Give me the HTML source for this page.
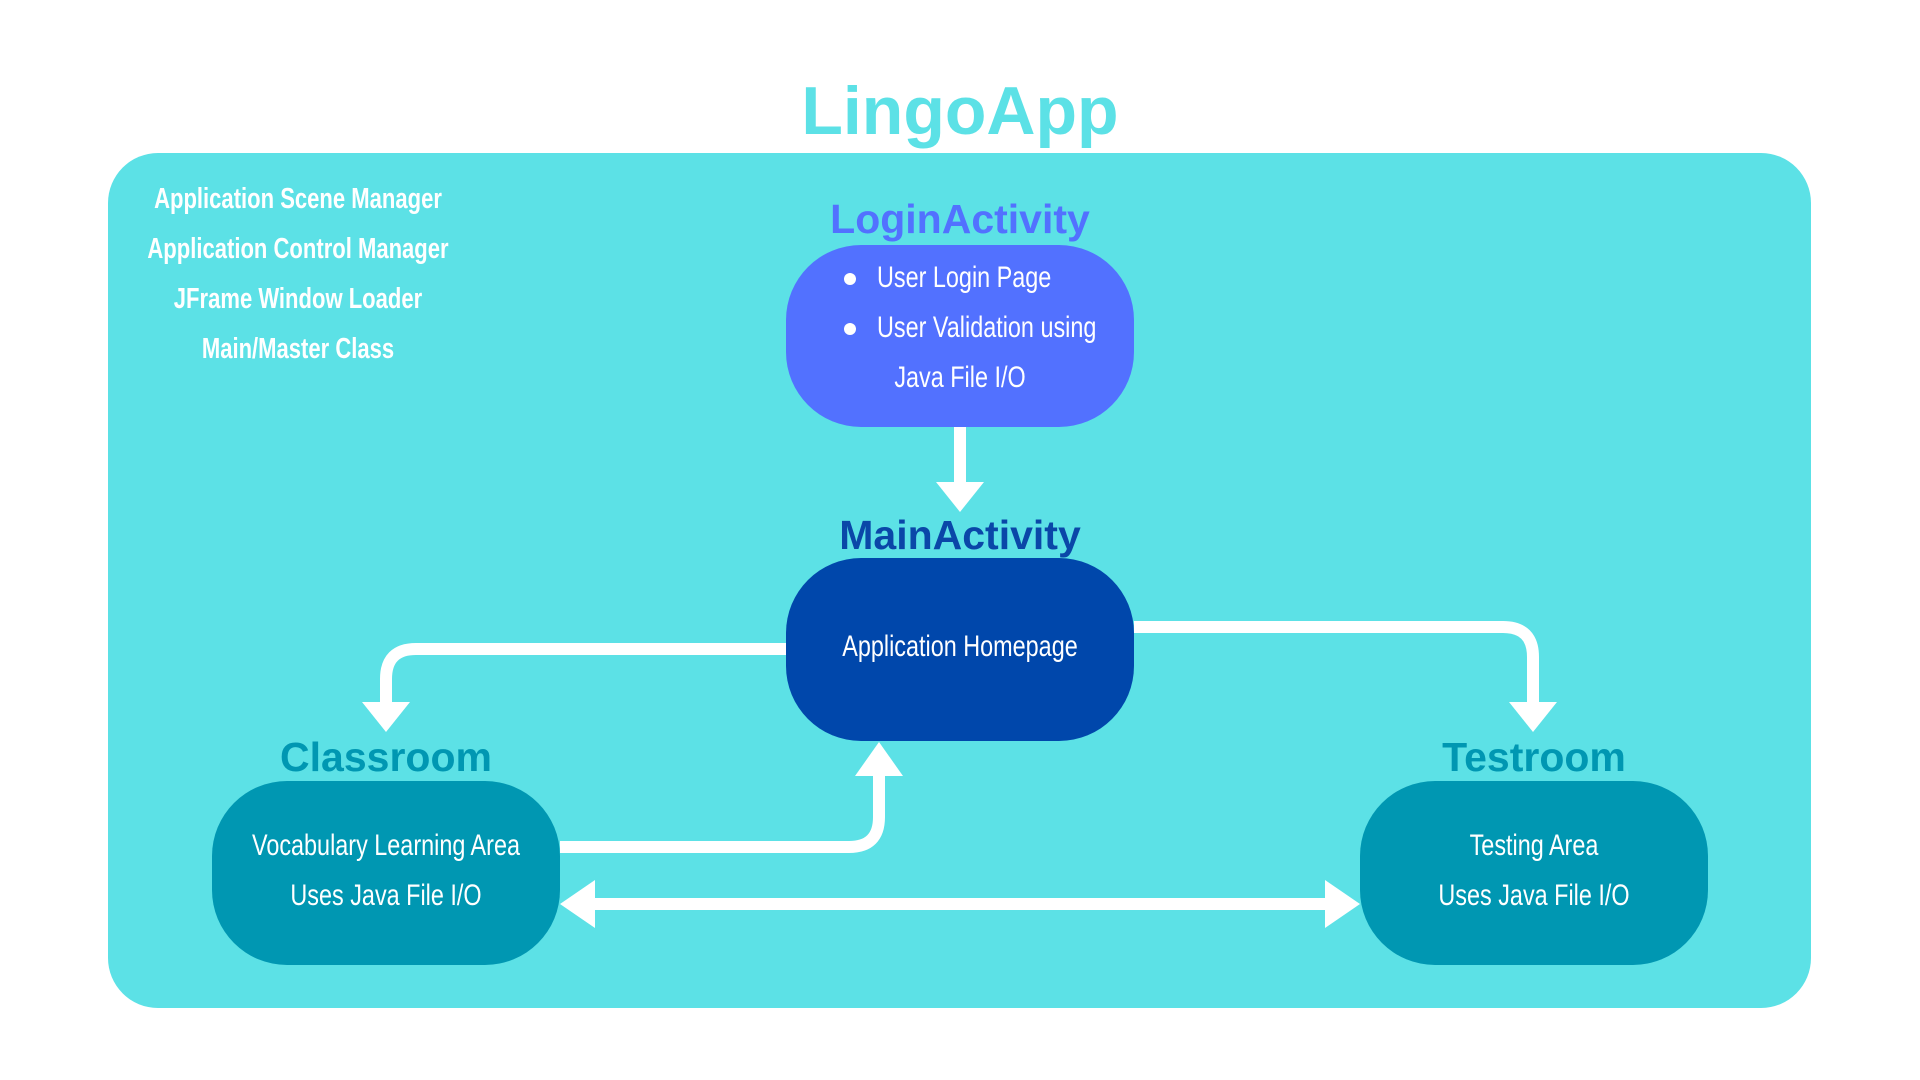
<!DOCTYPE html>
<html><head><meta charset="utf-8"><style>
html,body{margin:0;padding:0;background:#fff;}
body{width:1920px;height:1080px;position:relative;overflow:hidden;font-family:"Liberation Sans",sans-serif;}
.abs{position:absolute;}
.title{left:0;width:1920px;top:72px;text-align:center;font-size:68px;font-weight:bold;color:#5ce1e6;}
.panel{left:108px;top:153px;width:1703px;height:855px;background:#5ce1e6;border-radius:50px;}
.lbl{font-weight:bold;font-size:41px;text-align:center;width:400px;}
.box{border-radius:75px;}
.t{position:absolute;white-space:nowrap;text-align:center;color:#fff;font-size:30px;line-height:50px;transform:scaleX(0.78);}
.s{position:absolute;left:98px;width:400px;white-space:nowrap;text-align:center;color:#fff;font-weight:bold;font-size:29px;line-height:50px;transform:scaleX(0.76);}
</style></head><body>
<div class="abs title">LingoApp</div>
<div class="abs panel"></div>
<div class="s" style="top:174px">Application Scene Manager</div>
<div class="s" style="top:224px">Application Control Manager</div>
<div class="s" style="top:274px">JFrame Window Loader</div>
<div class="s" style="top:324px">Main/Master Class</div>

<div class="abs lbl" style="left:760px;top:196px;color:#5271ff;">LoginActivity</div>
<div class="abs box" style="left:786px;top:245px;width:348px;height:182px;background:#5271ff;"></div>
<div class="abs" style="left:844px;top:273px;width:12px;height:12px;border-radius:50%;background:#fff"></div>
<div class="abs" style="left:844px;top:323px;width:12px;height:12px;border-radius:50%;background:#fff"></div>
<div class="t" style="left:877px;top:253px;transform-origin:left center;">User Login Page</div>
<div class="t" style="left:877px;top:303px;transform-origin:left center;">User Validation using</div>
<div class="t" style="left:760px;width:400px;top:353px;">Java File I/O</div>

<div class="abs lbl" style="left:760px;top:512px;color:#0a47a8;">MainActivity</div>
<div class="abs box" style="left:786px;top:558px;width:348px;height:183px;background:#0047ab;"></div>
<div class="t" style="left:760px;width:400px;top:622px;">Application Homepage</div>

<div class="abs lbl" style="left:186px;top:734px;color:#0097b2;">Classroom</div>
<div class="abs box" style="left:212px;top:781px;width:348px;height:184px;background:#0097b2;"></div>
<div class="t" style="left:186px;width:400px;top:821px;">Vocabulary Learning Area</div>
<div class="t" style="left:186px;width:400px;top:871px;">Uses Java File I/O</div>

<div class="abs lbl" style="left:1334px;top:734px;color:#0097b2;">Testroom</div>
<div class="abs box" style="left:1360px;top:781px;width:348px;height:184px;background:#0097b2;"></div>
<div class="t" style="left:1334px;width:400px;top:821px;">Testing Area</div>
<div class="t" style="left:1334px;width:400px;top:871px;">Uses Java File I/O</div>

<svg class="abs" style="left:0;top:0" width="1920" height="1080">
<g fill="none" stroke="#fff" stroke-width="12">
<path d="M960 427 V485"/>
<path d="M786 649 H416 Q386 649 386 679 V705"/>
<path d="M1134 627 H1503 Q1533 627 1533 657 V705"/>
<path d="M560 847 H849 Q879 847 879 817 V770"/>
<path d="M590 904 H1330"/>
</g>
<g fill="#fff">
<polygon points="936,482 984,482 960,512"/>
<polygon points="362,702 410,702 386,732"/>
<polygon points="1509,702 1557,702 1533,732"/>
<polygon points="855,776 903,776 879,742"/>
<polygon points="595,880 595,928 560,904"/>
<polygon points="1325,880 1325,928 1360,904"/>
</g>
</svg>
</body></html>
